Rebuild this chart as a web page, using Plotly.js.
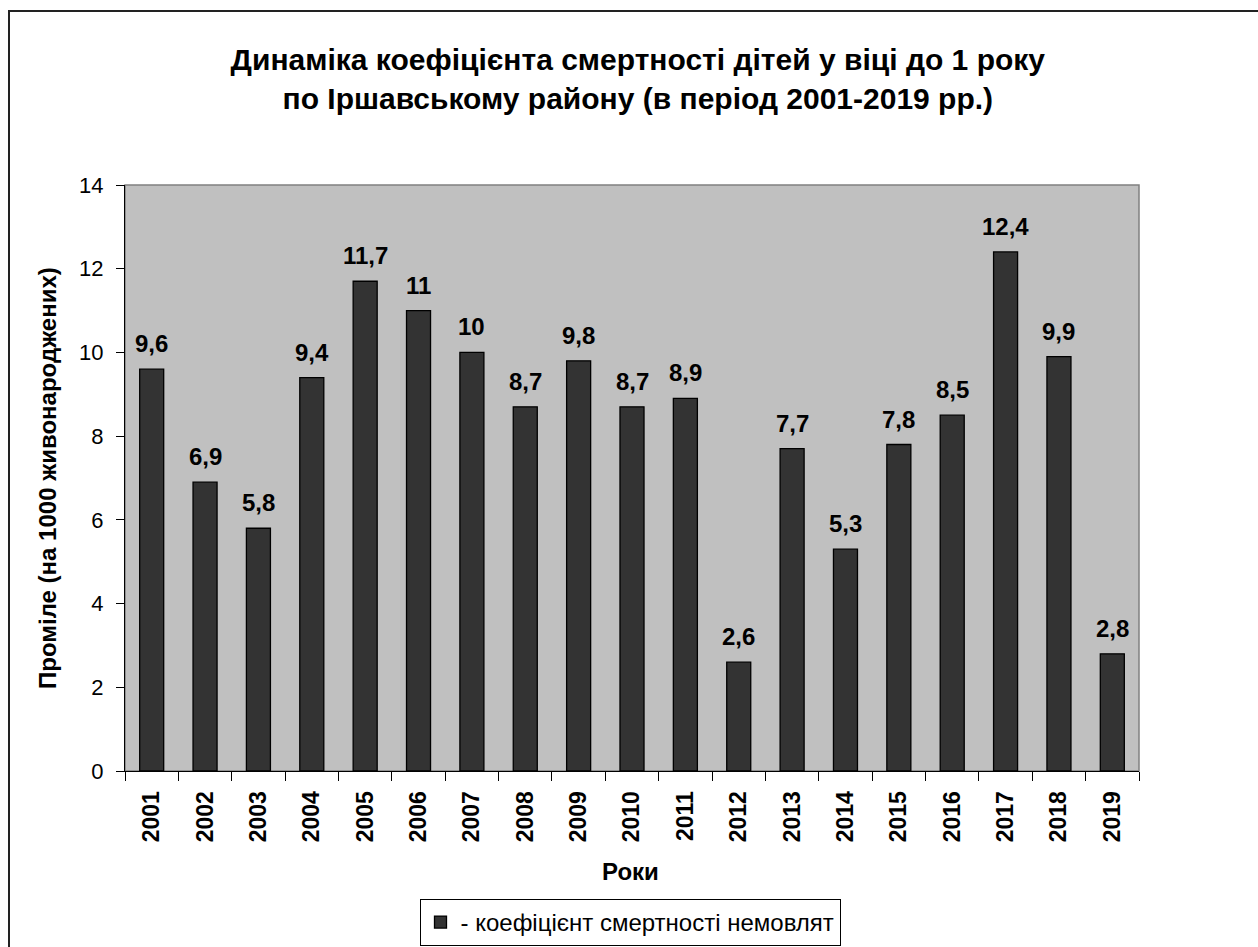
<!DOCTYPE html>
<html>
<head>
<meta charset="utf-8">
<script src="https://cdn.plot.ly/plotly-3.0.1.min.js"></script>
<style>
  html, body { margin: 0; padding: 0; background: #ffffff; overflow: hidden; }
  #wrap { position: absolute; left: 0; top: 0; width: 1258px; height: 947px; overflow: hidden; }
  #frame { position: absolute; left: 8px; top: 10px; width: 1300px; height: 1000px; border: 2px solid #222; box-sizing: border-box; }
  #chart { position: absolute; left: 0; top: 0; width: 1258px; height: 965px; }
</style>
</head>
<body>
<div id="wrap">
<div id="frame"></div>
<div id="chart"></div>
</div>
<script>
const years = ['2001','2002','2003','2004','2005','2006','2007','2008','2009','2010','2011','2012','2013','2014','2015','2016','2017','2018','2019'];
const rates = [9.6, 6.9, 5.8, 9.4, 11.7, 11, 10, 8.7, 9.8, 8.7, 8.9, 2.6, 7.7, 5.3, 7.8, 8.5, 12.4, 9.9, 2.8];
const seriesName = '- коефіцієнт смертності немовлят';
const titleLines = ['Динаміка коефіцієнта смертності дітей у віці до 1 року', 'по Іршавському району (в період 2001-2019 рр.)'];
const yTitle = 'Проміле (на 1000 живонароджених)';
const xTitle = 'Роки';

const FONT = 'Arial, "Liberation Sans", sans-serif';
const H = 965;

// category axes place annotations by category index
const labelAnnotations = years.map((yr, i) => ({
  x: i, y: rates[i], xref: 'x', yref: 'y',
  text: '<b>' + String(rates[i]).replace('.', ',') + '</b>',
  showarrow: false, yanchor: 'bottom', yshift: 10,
  font: { family: FONT, size: 24, color: '#000' }
}));

const trace = {
  type: 'bar',
  x: years,
  y: rates,
  name: seriesName,
  showlegend: true,
  marker: { color: '#333333', line: { color: '#000000', width: 1.3 } },
  hoverinfo: 'x+y'
};

const layout = {
  width: 1258, height: H,
  paper_bgcolor: 'rgba(0,0,0,0)',
  plot_bgcolor: '#c0c0c0',
  margin: { l: 125, r: 119, t: 185, b: H - 771 },
  font: { family: FONT, color: '#000' },
  title: {
    text: '<b>' + titleLines.join('<br>') + '</b>',
    font: { family: FONT, size: 30, color: '#000' },
    x: 0.507, xanchor: 'center', xref: 'container',
    y: 1 - 70 / H, yanchor: 'middle', yref: 'container'
  },
  bargap: 0.55,
  xaxis: {
    type: 'category',
    showgrid: false,
    showline: true, linecolor: '#000', linewidth: 1,
    ticks: 'outside', tickson: 'boundaries', ticklen: 9, tickcolor: '#000', tickwidth: 1,
    tickangle: -90,
    tickfont: { family: FONT, size: 23, color: '#000', weight: 'bold' },
    ticklabelstandoff: 10,
    fixedrange: true
  },
  yaxis: {
    range: [0, 14], dtick: 2, tick0: 0,
    showgrid: false, zeroline: false,
    showline: true, linecolor: '#000', linewidth: 1,
    ticks: 'outside', ticklen: 8, tickcolor: '#000', tickwidth: 1,
    tickfont: { family: FONT, size: 22, color: '#000' },
    ticklabelstandoff: 8,
    fixedrange: true
  },
  shapes: [{
    type: 'rect', xref: 'paper', yref: 'paper', x0: 0, x1: 1, y0: 0, y1: 1,
    line: { color: '#808080', width: 1.5 }, fillcolor: 'rgba(0,0,0,0)', layer: 'below'
  }],
  annotations: labelAnnotations.concat([
    {
      text: '<b>' + yTitle + '</b>', textangle: -90, showarrow: false,
      xref: 'paper', yref: 'paper', x: (47 - 125) / 1014, y: 0.5,
      xanchor: 'center', yanchor: 'middle',
      font: { family: FONT, size: 24, color: '#000' }
    },
    {
      text: '<b>' + xTitle + '</b>', showarrow: false,
      xref: 'paper', yref: 'paper', x: (630 - 125) / 1014, y: (771 - 871) / 586,
      xanchor: 'center', yanchor: 'middle',
      font: { family: FONT, size: 24, color: '#000' }
    }
  ]),
  showlegend: true,
  legend: {
    x: (630 - 125) / 1014, xanchor: 'center',
    y: (771 - 899) / 586, yanchor: 'top',
    bgcolor: '#ffffff', bordercolor: '#000', borderwidth: 1,
    font: { family: FONT, size: 24, color: '#000' },
    itemclick: false, itemdoubleclick: false
  }
};

Plotly.newPlot('chart', [trace], layout, { displayModeBar: false });
</script>
</body>
</html>
